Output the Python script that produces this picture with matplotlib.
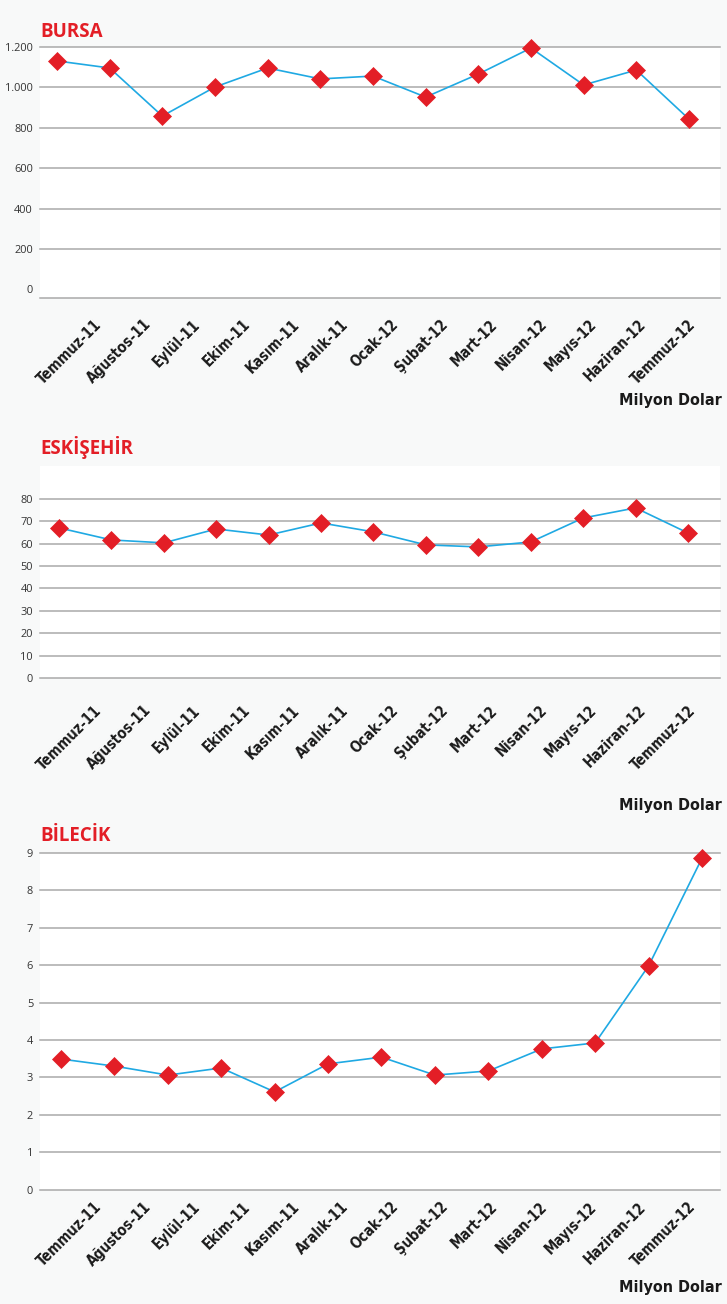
import matplotlib
matplotlib.use("Agg")
import matplotlib.pyplot as plt
from matplotlib.transforms import ScaledTranslation

months = ["Temmuz-11", "Ağustos-11", "Eylül-11", "Ekim-11", "Kasım-11", "Aralık-11",
          "Ocak-12", "Şubat-12", "Mart-12", "Nisan-12", "Mayıs-12", "Haziran-12", "Temmuz-12"]

bursa = [1131, 1096, 858, 1002, 1096, 1042, 1056, 952, 1066, 1195, 1012, 1086, 843]
eskisehir = [67.0, 61.6, 60.3, 66.5, 63.8, 69.2, 65.2, 59.4, 58.5, 60.7, 71.4, 75.9, 64.7]
bilecik = [3.49, 3.30, 3.06, 3.25, 2.61, 3.36, 3.54, 3.06, 3.17, 3.76, 3.92, 5.98, 8.86]

bursa_ticks = [0, 200, 400, 600, 800, 1000, 1200]
bursa_ticklabels = ["0", "200", "400", "600", "800", "1.000", "1.200"]
eskisehir_ticks = [0, 10, 20, 30, 40, 50, 60, 70, 80]
bilecik_ticks = [0, 1, 2, 3, 4, 5, 6, 7, 8, 9]

titles = ["BURSA", "ESKİŞEHİR", "BİLECİK"]
unit = "Milyon Dolar"

W, H = 727, 1304
BG = "#f8f9f9"
RED = "#e31e26"
BLUE = "#1fa9e3"
GRID = "#a9a9a9"

fig = plt.figure(figsize=(W / 100, H / 100), dpi=100, facecolor=BG)

cond = ["DejaVu Sans"]
title_font = ["Open Sans", "DejaVu Sans"]
tick_font = ["Open Sans", "DejaVu Sans"]

panels = [
    dict(data=bursa, ticks=bursa_ticks, labels=bursa_ticklabels, top=47, bottom=298,
         xlim=(-0.323, 12.589), ylim=(-43, 1200), dy=24, title_base=37,
         unit_base=405, zero_grid=False, spine=True),
    dict(data=eskisehir, ticks=eskisehir_ticks, labels=[str(t) for t in eskisehir_ticks],
         top=466, bottom=678, xlim=(-0.362, 12.61), ylim=(0, 94.6), dy=30,
         title_base=454, unit_base=810, zero_grid=True, spine=False),
    dict(data=bilecik, ticks=bilecik_ticks, labels=[str(t) for t in bilecik_ticks],
         top=853, bottom=1189.5, xlim=(-0.393, 12.337), ylim=(0, 9), dy=15,
         title_base=841, unit_base=1292, zero_grid=True, spine=False),
]

left_px, right_px = 40, 720
label_end0, label_step = 99, 49.5   # pixel layout of the category labels
x = list(range(len(months)))

for p, title in zip(panels, titles):
    ax = fig.add_axes([left_px / W, 1 - p["bottom"] / H,
                       (right_px - left_px) / W, (p["bottom"] - p["top"]) / H])
    ax.set_facecolor("white")
    ax.set_xlim(*p["xlim"])
    ax.set_ylim(*p["ylim"])
    ax.set_yticks(p["ticks"])
    ax.set_yticklabels(p["labels"], family=tick_font, fontsize=7.9, color="#333333")
    ax.tick_params(axis="y", length=0, pad=5)
    ax.set_xticks([])
    for s in ax.spines.values():
        s.set_visible(False)
    if p["spine"]:
        ax.spines["bottom"].set_visible(True)
        ax.spines["bottom"].set_color(GRID)
        ax.spines["bottom"].set_linewidth(1.1)
    for t in p["ticks"]:
        if t == 0 and not p["zero_grid"]:
            continue
        ax.axhline(t, color=GRID, lw=1.1, zorder=1, clip_on=False)

    ax.plot(x, p["data"], color=BLUE, lw=1.2, zorder=3,
            marker="D", markersize=9, markerfacecolor=RED, markeredgecolor=RED,
            markeredgewidth=0.5, clip_on=False)

    off = ScaledTranslation(0, -p["dy"] / 100, fig.dpi_scale_trans)
    for i, m in enumerate(months):
        fx = (label_end0 + label_step * i - left_px) / (right_px - left_px)
        ax.text(fx, 0, m, transform=ax.transAxes + off,
                rotation=45, rotation_mode="anchor", ha="right", va="center",
                family=cond, fontweight="bold", fontstretch="condensed",
                fontsize=10.5, color="#1a1a1a", clip_on=False)

    fig.text(left_px / W, 1 - p["title_base"] / H, title, family=title_font,
             fontweight="bold", fontsize=13.5, color=RED, ha="left", va="baseline")
    fig.text(722 / W, 1 - p["unit_base"] / H, unit, family=cond, fontweight="bold",
             fontstretch="condensed", fontsize=11.5, color="#1a1a1a",
             ha="right", va="baseline")

fig.savefig("out.png", dpi=100, facecolor=BG)
